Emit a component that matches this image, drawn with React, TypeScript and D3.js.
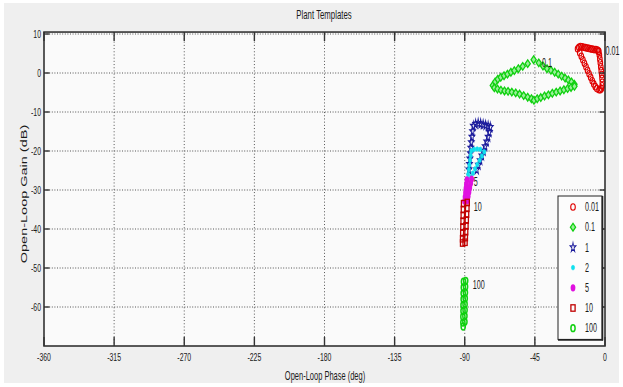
import React from "react";
import * as d3 from "d3";

// template points: [phase (deg), gain (dB)]
const tpl001: [number, number][] = [
  [-17.6, 6.2], [-16.8, 6.6], [-15.8, 6.8], [-14.7, 6.7], [-13.6, 6.6], [-12.5, 6.5], [-11.4, 6.4],
  [-10.3, 6.3], [-9.2, 6.2], [-8.1, 6.1], [-7.0, 6.0], [-5.9, 6.0], [-4.8, 5.9], [-4.2, 5.5],
  [-16.2, 5.2], [-15.2, 4.3], [-14.2, 3.4], [-13.2, 2.5], [-12.2, 1.6], [-11.2, 0.7], [-10.2, -0.2],
  [-9.2, -1.1], [-8.2, -2.0], [-7.2, -2.8], [-6.2, -3.5], [-5.2, -4.0],
  [-4.0, 5.6], [-3.6, 4.6], [-3.3, 3.6], [-3.0, 2.6], [-2.7, 1.6], [-2.4, 0.6], [-2.1, -0.4],
  [-1.9, -1.4], [-1.7, -2.4], [-1.8, -3.3], [-2.3, -4.0], [-3.0, -4.3], [-3.8, -4.3],
];

const tpl01: [number, number][] = [
  [-72.0, -3.2], [-70.5, -2.3], [-68.8, -1.6], [-66.9, -1.1], [-64.8, -0.7], [-62.6, -0.3],
  [-60.4, 0.2], [-58.2, 0.6], [-55.6, 1.1], [-52.8, 1.7], [-49.6, 2.4], [-45.8, 3.4],
  [-42.5, 2.6], [-39.8, 1.8], [-37.2, 1.1], [-34.7, 0.7], [-32.3, 0.2], [-30.0, -0.3],
  [-27.8, -0.8], [-25.6, -1.3], [-23.5, -1.8], [-21.5, -2.3], [-19.6, -2.9],
  [-71.0, -3.8], [-69.0, -4.1], [-66.8, -4.4], [-64.5, -4.6], [-62.2, -4.7], [-59.8, -4.9],
  [-57.3, -5.1], [-54.8, -5.4], [-52.2, -5.8], [-49.6, -6.2], [-47.2, -6.6], [-45.6, -7.0],
  [-43.5, -6.6], [-41.2, -6.3], [-38.8, -5.9], [-36.3, -5.6], [-33.8, -5.2], [-31.3, -4.9],
  [-28.8, -4.6], [-26.4, -4.3], [-24.0, -4.0], [-21.8, -3.7], [-19.6, -3.4],
];

const tpl1: [number, number][] = [
  [-84.5, -13.6], [-83.0, -13.1], [-81.4, -12.9], [-79.8, -13.0], [-78.2, -13.2], [-76.6, -13.4],
  [-75.0, -13.6], [-73.6, -13.9],
  [-85.0, -15.0], [-85.4, -16.4], [-85.8, -17.8], [-86.1, -19.2], [-86.4, -20.6], [-86.7, -22.0],
  [-87.0, -23.4], [-87.3, -24.8],
  [-74.2, -15.2], [-75.0, -16.4], [-75.9, -17.6], [-76.9, -18.8], [-77.9, -20.0], [-79.0, -21.2],
  [-80.1, -22.4], [-81.2, -23.6], [-82.3, -24.8],
];

const tpl2: [number, number][] = [
  [-84.0, -19.6], [-82.0, -19.5], [-80.0, -19.6],
  [-85.8, -20.0], [-86.2, -21.2], [-86.6, -22.4], [-87.0, -23.6], [-87.4, -24.8], [-87.8, -26.0], [-88.2, -27.2],
  [-77.5, -20.2], [-79.0, -21.3], [-80.5, -22.4], [-82.0, -23.5], [-83.4, -24.6], [-84.8, -25.7], [-86.0, -26.8],
];

const tpl5: [number, number][] = [
  [-88.6, -27.4], [-88.9, -28.5], [-89.2, -29.6], [-89.5, -30.7], [-89.8, -31.8], [-90.1, -32.9],
  [-85.6, -27.2], [-86.2, -28.3], [-86.8, -29.4], [-87.3, -30.5], [-87.8, -31.6], [-88.3, -32.7],
];

const tpl10: [number, number][] = [
  [-90.8, -33.5], [-90.9, -35.0], [-91.0, -36.5], [-91.1, -38.0], [-91.2, -39.5], [-91.3, -41.0],
  [-91.4, -42.5], [-91.4, -43.6],
  [-88.4, -33.2], [-88.6, -34.7], [-88.8, -36.2], [-89.0, -37.7], [-89.2, -39.2], [-89.4, -40.7],
  [-89.6, -42.2], [-89.8, -43.4],
];

const tpl100: [number, number][] = [
  [-90.8, -53.5], [-90.9, -55.0], [-91.0, -56.5], [-91.0, -58.0], [-91.1, -59.5], [-91.1, -61.0],
  [-91.2, -62.5], [-91.2, -64.0], [-91.0, -65.0],
  [-89.4, -53.3], [-89.5, -54.8], [-89.6, -56.3], [-89.7, -57.8], [-89.8, -59.3], [-89.8, -60.8],
  [-89.9, -62.3], [-89.9, -63.8],
];

const freqLabels = ["0.01", "0.1", "1", "2", "5", "10", "100"];
// text labels next to the templates: [label, phase, gain]
const tplTexts: [string, number, number][] = [
  ["0.01", 0.3, 5.6],
  ["0.1", -40.5, 2.7],
  ["5", -84.3, -28],
  ["10", -84.3, -34.4],
  ["100", -84.9, -54.4],
];

const xTicks = [-360, -315, -270, -225, -180, -135, -90, -45, 0];
const yTicks = [10, 0, -10, -20, -30, -40, -50, -60];

type Marker = "circle" | "diamond" | "star" | "dot" | "fdot" | "square" | "ring";

const series: { data: [number, number][]; marker: Marker; color: string }[] = [
  { data: tpl001, marker: "circle", color: "#e00000" },
  { data: tpl01, marker: "diamond", color: "#10d010" },
  { data: tpl1, marker: "star", color: "#1c1c9c" },
  { data: tpl2, marker: "dot", color: "#10e0ee" },
  { data: tpl5, marker: "fdot", color: "#e010e0" },
  { data: tpl10, marker: "square", color: "#c00000" },
  { data: tpl100, marker: "ring", color: "#10d010" },
];

const SX = 0.6; // horizontal squeeze of the picture

function MarkerShape({ kind, x, y, color }: { kind: Marker; x: number; y: number; color: string }) {
  switch (kind) {
    case "circle":
      return <ellipse cx={x} cy={y} rx={2.3} ry={3.3} fill="none" stroke={color} strokeWidth={1.1} />;
    case "diamond":
      return (
        <path
          d={`M${x},${y - 3.8}L${x + 2.6},${y}L${x},${y + 3.8}L${x - 2.6},${y}Z`}
          fill="#9aef9a"
          stroke={color}
          strokeWidth={1.3}
        />
      );
    case "star": {
      const star = d3.symbol().type(d3.symbolStar).size(28)()!;
      return (
        <path
          d={star}
          transform={`translate(${x},${y}) scale(${SX},1)`}
          fill="none"
          stroke={color}
          strokeWidth={1.3}
        />
      );
    }
    case "dot":
      return <ellipse cx={x} cy={y} rx={1.6} ry={2.4} fill={color} stroke={color} strokeWidth={0.6} />;
    case "fdot":
      return <ellipse cx={x} cy={y} rx={2.4} ry={3.6} fill={color} />;
    case "square":
      return <rect x={x - 2.1} y={y - 3.2} width={4.2} height={6.4} fill="none" stroke={color} strokeWidth={1.3} />;
    case "ring":
      return <ellipse cx={x} cy={y} rx={2.1} ry={3.4} fill="none" stroke={color} strokeWidth={1.5} />;
  }
}

function SText({
  x, y, children, anchor = "middle", size = 11.5,
}: { x: number; y: number; children: React.ReactNode; anchor?: string; size?: number }) {
  return (
    <text
      transform={`translate(${x},${y}) scale(${SX},1)`}
      textAnchor={anchor}
      dominantBaseline="central"
      fontSize={size}
      fill="#1a1a1a"
    >
      {children}
    </text>
  );
}

export default function App() {
  const width = 623;
  const height = 387;
  const x = d3.scaleLinear().domain([-360, 0]).range([44, 605]);
  const y = d3.scaleLinear().domain([-70, 10]).range([346, 34]);
  const top = y(10.5);
  const bottom = y(-70);
  const left = x(-360);
  const right = x(0);

  const lgX = 558, lgTop = 196, lgW = 44, lgRow = 20.2;
  const lgH = lgRow * freqLabels.length + 2;

  return (
    <svg
      width={width}
      height={height}
      style={{ position: "absolute", left: 0, top: 0, fontFamily: "'Liberation Sans', Arial, sans-serif" }}
    >
      <rect x={0} y={0} width={width} height={height} fill="#ffffff" />
      <rect x={4} y={3} width={615} height={380} fill="#efefef" />
      <rect x={left} y={top} width={right - left} height={bottom - top} fill="#fafafa" />

      {/* grid */}
      {xTicks.slice(1, -1).map((t) => (
        <line key={"gx" + t} x1={x(t)} x2={x(t)} y1={top} y2={bottom} stroke="#555" strokeWidth={1} strokeDasharray="1,2.2" />
      ))}
      {yTicks.map((t) => (
        <line key={"gy" + t} x1={left} x2={right} y1={y(t)} y2={y(t)} stroke="#555" strokeWidth={1} strokeDasharray="1,1.6" />
      ))}

      {/* templates */}
      {series.map((s, i) => (
        <g key={"s" + i}>
          {s.data.map((d, j) => (
            <MarkerShape key={j} kind={s.marker} x={x(d[0])} y={y(d[1])} color={s.color} />
          ))}
        </g>
      ))}

      {tplTexts.map(([t, p, g]) => (
        <SText key={"tt" + t} x={x(p)} y={y(g)} anchor="start" size={12}>
          {t}
        </SText>
      ))}

      {/* axes box and ticks */}
      <rect x={left} y={top} width={right - left} height={bottom - top} fill="none" stroke="#333" strokeWidth={1.6} />
      {xTicks.map((t) => (
        <g key={"xt" + t}>
          <line x1={x(t)} x2={x(t)} y1={bottom} y2={bottom - 9} stroke="#333" strokeWidth={1.4} />
          <line x1={x(t)} x2={x(t)} y1={top} y2={top + 9} stroke="#333" strokeWidth={1.4} />
          <SText x={x(t)} y={357}>{t}</SText>
        </g>
      ))}
      {yTicks.map((t) => (
        <g key={"yt" + t}>
          <line x1={left} x2={left + 5.5} y1={y(t)} y2={y(t)} stroke="#333" strokeWidth={1.4} />
          <line x1={right} x2={right - 5.5} y1={y(t)} y2={y(t)} stroke="#333" strokeWidth={1.4} />
          <SText x={41} y={y(t)} anchor="end">{t}</SText>
        </g>
      ))}

      {/* legend */}
      <rect x={lgX} y={lgTop} width={lgW} height={lgH} fill="#fcfcfc" stroke="#222" strokeWidth={1} />
      <line x1={lgX + lgW + 0.5} x2={lgX + lgW + 0.5} y1={lgTop} y2={lgTop + lgH + 1} stroke="#222" strokeWidth={1.6} />
      <line x1={lgX} x2={lgX + lgW + 1} y1={lgTop + lgH + 0.5} y2={lgTop + lgH + 0.5} stroke="#222" strokeWidth={1.6} />
      {freqLabels.map((f, i) => {
        const cy = lgTop + 11 + i * lgRow;
        return (
          <g key={"lg" + f}>
            <MarkerShape kind={series[i].marker} x={lgX + 15} y={cy} color={series[i].color} />
            <SText x={lgX + 27} y={cy} anchor="start" size={12}>{f}</SText>
          </g>
        );
      })}

      {/* titles */}
      <SText x={324} y={14} size={13}>Plant Templates</SText>
      <SText x={325} y={376} size={12.5}>Open-Loop Phase (deg)</SText>
      <text
        transform={`translate(24,194) rotate(-90) scale(1,${SX})`}
        textAnchor="middle"
        dominantBaseline="central"
        fontSize={14.5}
        fill="#1a1a1a"
      >
        Open-Loop Gain (dB)
      </text>
    </svg>
  );
}
